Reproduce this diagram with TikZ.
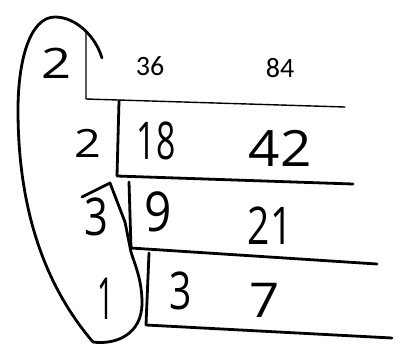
\documentclass[tikz,border=0pt]{standalone}
\usepackage{graphicx}
\usepackage{fontspec}
\newfontfamily\hwfont{Open Sans}
\newfontfamily\typefont{Carlito}
\newcommand{\sx}[2]{\scalebox{#1}[1]{#2}}
\begin{document}
\begin{tikzpicture}[x=1pt,y=-1pt,
  hw/.style={inner sep=0pt,font=\fontsize{#1}{#1}\selectfont\hwfont},
  tp/.style={inner sep=0pt,font=\fontsize{#1}{#1}\selectfont\typefont},
  thinline/.style={line width=1.4pt,line cap=round,line join=round},
  pen/.style={line width=2.8pt,line cap=round,line join=round}]
\useasboundingbox[fill=white] (0,0) rectangle (401,360);
% ladder brackets
\coordinate (b1t) at (86,33);
\coordinate (b1c) at (86,99);
\coordinate (b1e) at (345,107);
\draw[thinline] (b1t) -- (b1c) -- (b1e);
\coordinate (b2t) at (119,101);
\coordinate (b2c) at (117,176);
\coordinate (b2e) at (353,184);
\draw[pen] (b2t) -- (b2c) -- (b2e);
\coordinate (b3t) at (129,182);
\coordinate (b3c) at (131,248);
\coordinate (b3e) at (377,264);
\draw[pen] (b3t) -- (b3c) -- (b3e);
\coordinate (b4t) at (149,253);
\coordinate (b4c) at (146,325);
\coordinate (b4e) at (392,338);
\draw[pen] (b4t) -- (b4c) -- (b4e);
% loop around the divisors
\coordinate (ls) at (102,58);
\coordinate (lt) at (55,17);
\coordinate (lb) at (93,342);
\coordinate (lr) at (142,303);
\coordinate (lm) at (131,252);
\coordinate (lk) at (110,183);
\coordinate (lf) at (82,197);
\draw[pen] (ls) .. controls (95,35) and (75,17) .. (lt)
  .. controls (30,17) and (18,60) .. (18,110)
  .. controls (18,200) and (40,280) .. (lb)
  .. controls (115,345) and (142,335) .. (lr)
  .. controls (142,280) and (135,265) .. (lm)
  -- (125,222) -- (lk) -- (lf);
% numbers
\node[hw=42] (d1) at (57,63) {\sx{1.25}{2}};
\node[tp=28] (n36) at (150,66) {36};
\node[tp=28] (n84) at (280,68) {84};
\node[hw=39] (d2) at (88,143) {\sx{1.2}{2}};
\node[hw=52] (n18) at (156,141) {\sx{0.65}{18}};
\node[hw=50] (n42) at (280,148) {\sx{1.1}{42}};
\node[hw=52] (d3) at (96,217) {\sx{0.8}{3}};
\node[hw=55] (n9) at (158,212) {\sx{0.87}{9}};
\node[hw=52] (n21) at (270,226) {\sx{0.75}{21}};
\node[hw=58] (d4) at (106,299) {\sx{0.5}{1}};
\node[hw=52] (n3) at (181,291) {\sx{0.75}{3}};
\node[hw=48] (n7) at (265,300) {\sx{1.1}{7}};
\end{tikzpicture}
\end{document}
